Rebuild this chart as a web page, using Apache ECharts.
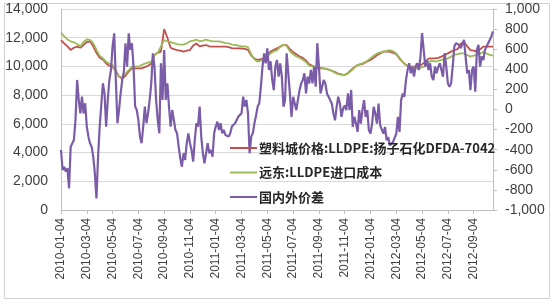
<!DOCTYPE html>
<html>
<head>
<meta charset="utf-8">
<script src="https://cdn.jsdelivr.net/npm/echarts@6/dist/echarts.min.js"></script>
<style>html,body{margin:0;padding:0;background:#fff;}#c{width:550px;height:300px;}</style>
</head>
<body>
<div id="c"></div>
<script>
// Series names
var seriesNames = ['塑料城价格:LLDPE:扬子石化DFDA-7042', '远东:LLDPE进口成本', '国内外价差'];

// Tick labels shown on the category axis
var tickLabels = ['2010-01-04','2010-03-04','2010-05-04','2010-07-04','2010-09-04','2010-11-04',
  '2011-01-04','2011-03-04','2011-05-04','2011-07-04','2011-09-04','2011-11-04',
  '2012-01-04','2012-03-04','2012-05-04','2012-07-04','2012-09-04'];

// Weekly categories (4 per month), 2010-01-04 .. 2012-10-18
var categories = [];
(function(){
  var days = ['04','11','18','25'];
  for (var y = 2010; y <= 2012; y++) {
    for (var m = 1; m <= 12; m++) {
      for (var d = 0; d < 4; d++) {
        if (categories.length < 135) categories.push(y + '-' + (m < 10 ? '0' + m : m) + '-' + days[d]);
      }
    }
  }
})();

// 塑料城价格 (left axis), weekly
var redValues = [
11840,11600,11400,11150,11300,11380,11300,11500,11700,11750,
11400,10950,10600,10480,10200,10050,9950,9700,9300,9150,
9350,9650,9870,9870,9870,9870,9950,10050,10200,10800,
10950,11030,12600,12000,11300,11200,11140,11100,11030,11100,
11140,11450,11600,11400,11450,11490,11400,11380,11380,11380,
11380,11380,11350,11280,11260,11260,11250,11220,11150,10750,
10550,10450,10500,10560,10800,11030,11150,11260,11380,11480,
11490,11200,11000,10850,10700,10600,10400,10150,10050,9900,
9870,9870,9850,9780,9700,9600,9500,9450,9400,9550,
9750,9950,10100,10150,10220,10350,10450,10600,10780,10900,
11030,11030,11030,10950,10850,10550,10300,10100,10000,9980,
9980,10000,10150,10300,10550,10560,10560,10600,10680,10800,
10910,11030,11140,11200,11600,11700,11400,11140,11100,11030,
11200,11380,11380,11380,11380
];

// 远东:LLDPE进口成本 (left axis), weekly
var greenValues = [
12330,12100,11880,11750,11680,11550,11400,11700,11880,11850,
11630,11150,10750,10560,10330,10200,10100,9600,9250,9250,
9500,9750,9980,9980,9980,10100,10200,10260,10330,10800,
10950,11400,11840,11750,11700,11630,11560,11520,11520,11600,
11750,11800,11860,11750,11800,11860,11800,11750,11750,11750,
11700,11630,11600,11520,11500,11450,11400,11400,11350,10850,
10500,10330,10400,10450,10700,10910,11050,11140,11360,11530,
11420,11050,10850,10700,10600,10470,10300,10050,9980,9980,
9950,9900,9850,9780,9700,9550,9460,9420,9400,9500,
9700,9900,10100,10180,10260,10400,10560,10750,10900,10980,
11030,11080,11130,11050,10900,10600,10300,10100,10000,9950,
9880,9870,9950,10000,10300,10400,10330,10380,10450,10500,
10560,10680,10800,10850,10910,10910,10800,10680,10750,10800,
10900,11000,10900,10800,10750
];

// 国内外价差 (right axis), half-weekly
var spreadValues = [
-403,-602,-570,-618,-585,-784,-370,-370,-303,-100,
294,95,-38,128,-38,62,-170,-270,-336,-370,
-469,-635,-884,-469,-170,-170,261,161,-170,95,
294,393,625,758,300,-137,-5,161,294,377,
659,427,758,592,659,427,29,-5,-104,-270,
-336,-170,29,-137,-38,95,261,559,427,95,
-104,-237,460,95,592,95,261,29,-170,-5,
-104,-204,-237,-370,-486,-569,-436,-502,-336,-237,
-336,-403,-519,-303,-137,-170,29,-270,-436,-535,
-436,-336,-436,-403,-469,-237,-170,-121,-204,-137,
-237,-204,-253,-270,-270,-237,-170,-170,-137,-104,
-71,-54,-38,128,29,95,-38,-436,-270,-237,
-137,-60,29,62,228,427,559,460,609,393,
480,300,193,427,493,327,460,327,27,93,
560,360,160,-73,127,60,-7,100,193,260,
293,360,160,327,260,393,260,427,227,660,
427,160,227,293,260,160,127,93,60,-40,
-107,27,127,60,-73,10,40,-7,160,-7,
193,-173,-73,-140,-223,-7,-140,-7,93,-73,
-7,-207,-240,-140,27,-40,-140,60,-157,-173,
-240,-173,-307,-273,-357,-340,-323,-340,-240,-73,
-223,93,160,127,293,393,460,360,427,327,
427,460,393,527,760,593,427,493,393,460,
327,293,427,360,420,460,393,327,560,427,
260,227,260,427,627,660,660,643,610,627,
693,527,360,393,193,393,427,177,593,643,
427,527,493,593,627,660,660,727,777
];

// half-step positions for the spread series (hidden axis)
var halfSteps = spreadValues.map(function(_, i){ return String(i); });

var seriesColors = ['#C0504D', '#9BBB59', '#7B5CA8'];
var axisText = '#404040';
var gridColor = '#d9d9d9';
var axisColor = '#bfbfbf';
var labelFont = 'Liberation Sans';

function showTick(idx, val) { return tickLabels.indexOf(val) >= 0; }

var legendTops = [141.5, 166, 190.5];
var legends = seriesNames.map(function(name, i){
  return {
    orient: 'vertical', left: 230, top: legendTops[i], padding: 0,
    icon: 'rect', itemWidth: 27, itemHeight: 2, itemGap: 0,
    textStyle: {fontFamily: 'Noto Sans CJK SC', fontSize: 13, fontWeight: 'bold', color: '#262626', padding: [0,0,0,-3]},
    data: [name]
  };
});

var chart = echarts.init(document.getElementById('c'), null, {renderer: 'canvas'});
chart.setOption({
  animation: false,
  backgroundColor: '#fff',
  graphic: [{
    type: 'rect', left: 2, top: 1, silent: true, z: -1,
    shape: {x: 0, y: 0, width: 545, height: 295},
    style: {fill: 'none', stroke: '#d0d0d0', lineWidth: 1}
  }],
  grid: {left: 61, right: 57, top: 9, bottom: 90, containLabel: false},
  legend: legends,
  xAxis: [{
    type: 'category', data: categories, boundaryGap: false,
    axisLine: {lineStyle: {color: axisColor}},
    axisTick: {show: true, interval: showTick, length: 4, lineStyle: {color: axisColor}},
    axisLabel: {interval: showTick, rotate: 90, margin: 8, color: axisText, fontFamily: labelFont, fontSize: 12},
    splitLine: {show: false}
  }, {
    type: 'category', data: halfSteps, boundaryGap: false, show: false
  }],
  yAxis: [{
    type: 'value', min: 0, max: 14000, interval: 2000, position: 'left',
    axisLine: {show: true, lineStyle: {color: axisColor}},
    axisTick: {show: false},
    axisLabel: {margin: 13, color: axisText, fontFamily: labelFont, fontSize: 14,
      formatter: function(v){ return v.toLocaleString('en-US'); }},
    splitLine: {show: true, lineStyle: {color: gridColor, width: 1}}
  }, {
    type: 'value', min: -1000, max: 1000, interval: 200, position: 'right',
    axisLine: {show: true, lineStyle: {color: axisColor}},
    axisTick: {show: true, length: 4, lineStyle: {color: axisColor}},
    axisLabel: {margin: 12, color: axisText, fontFamily: labelFont, fontSize: 14,
      formatter: function(v){ return v.toLocaleString('en-US'); }},
    splitLine: {show: false}
  }],
  series: [{
    name: seriesNames[0], type: 'line', xAxisIndex: 0, yAxisIndex: 0,
    data: redValues, symbol: 'none', lineStyle: {color: seriesColors[0], width: 1.8}, itemStyle: {color: seriesColors[0]}
  }, {
    name: seriesNames[1], type: 'line', xAxisIndex: 0, yAxisIndex: 0,
    data: greenValues, symbol: 'none', lineStyle: {color: seriesColors[1], width: 1.8}, itemStyle: {color: seriesColors[1]}
  }, {
    name: seriesNames[2], type: 'line', xAxisIndex: 1, yAxisIndex: 1,
    data: spreadValues, symbol: 'none', lineStyle: {color: seriesColors[2], width: 2.2}, itemStyle: {color: seriesColors[2]}
  }]
});
</script>
</body>
</html>
